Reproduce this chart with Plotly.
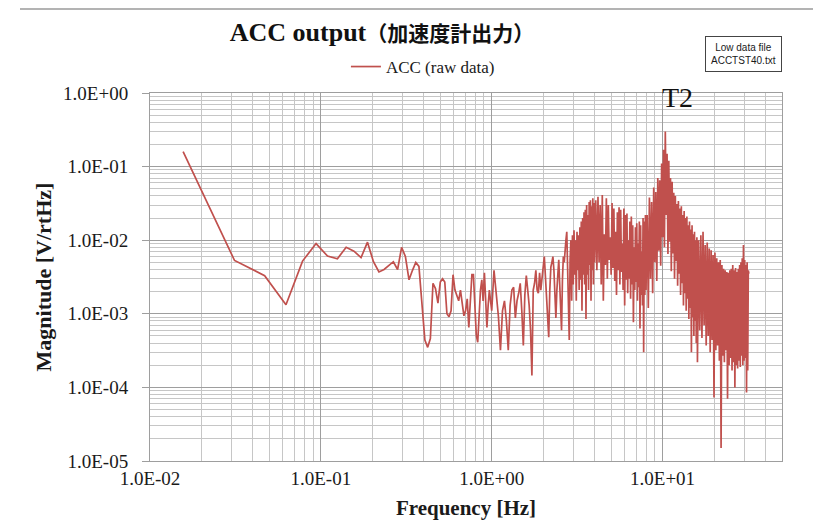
import numpy as np
import plotly.graph_objects as go

# ---------------- data ----------------
# 0.015625 .. 1.0 Hz, every FFT bin (df = 1/64 Hz)
mag_0_1 = [0.16, 0.0053, 0.0033, 0.00133, 0.0052, 0.0090, 0.0061, 0.0056, 0.0080, 0.0071,
           0.0058, 0.0094, 0.0051, 0.0037, 0.0040, 0.0046, 0.0051, 0.0040, 0.0080, 0.0060,
           0.0029, 0.0039, 0.0050, 0.0044, 0.0015, 0.00044, 0.00035, 0.00046, 0.0026, 0.0022,
           0.0014, 0.0027, 0.0030, 0.0027, 0.0010, 0.00091, 0.0011, 0.0034, 0.0021, 0.0018,
           0.0015, 0.0021, 0.0013, 0.00094, 0.0011, 0.0016, 0.00065, 0.0015, 0.0034, 0.0034,
           0.0013, 0.00051, 0.00041, 0.0011, 0.0021, 0.0029, 0.0015, 0.0036, 0.0015, 0.00065,
           0.0013, 0.0021, 0.0015, 0.0011]
# 1 .. 2 Hz (step 1/32 Hz)
mag_1_2 = [0.0039, 0.0021, 0.00094, 0.00032, 0.0011, 0.0015, 0.0008, 0.00032, 0.0013, 0.0021,
           0.0023, 0.00088, 0.0015, 0.0019, 0.0026, 0.0011, 0.00037, 0.0018, 0.0033, 0.0021,
           0.0013, 0.0006, 0.000145, 0.0021, 0.0026, 0.0039, 0.0021, 0.0019, 0.0036, 0.0021,
           0.0031, 0.0043]
# 2 .. 4 Hz (step 1/32 Hz)
mag_2_4 = [0.006, 0.0032, 0.0015, 0.0008, 0.00048, 0.0021, 0.0043, 0.005, 0.006, 0.0039,
           0.0015, 0.00088, 0.0021, 0.0039, 0.0054, 0.0025, 0.0011, 0.0006, 0.0029, 0.006,
           0.005, 0.0086, 0.01, 0.013, 0.0029, 0.0011, 0.00044, 0.0054, 0.01, 0.0015,
           0.0117, 0.0025, 0.0137, 0.0034, 0.01, 0.0015, 0.013, 0.0039, 0.0117, 0.0021,
           0.015, 0.0029, 0.018, 0.0011, 0.020, 0.0034, 0.024, 0.0025, 0.026, 0.00085,
           0.030, 0.0034, 0.022, 0.0021, 0.033, 0.0046, 0.035, 0.0015, 0.029, 0.0039,
           0.037, 0.0025, 0.032, 0.005]
# 4 .. 8 Hz (step 1/16 Hz)
mag_4_8 = [0.035, 0.0039, 0.039, 0.005, 0.030, 0.0025, 0.041, 0.0015, 0.012, 0.0046,
           0.037, 0.0030, 0.030, 0.0054, 0.011, 0.0034, 0.032, 0.0042, 0.027, 0.0028,
           0.013, 0.0018, 0.024, 0.0039, 0.028, 0.0025, 0.026, 0.0037, 0.009, 0.0021,
           0.027, 0.0013, 0.022, 0.0029, 0.023, 0.0019, 0.010, 0.0030, 0.018, 0.0016,
           0.021, 0.0025, 0.016, 0.00077, 0.008, 0.0021, 0.015, 0.0027, 0.017, 0.0015,
           0.009, 0.0023, 0.018, 0.00063, 0.016, 0.0018, 0.007, 0.0013, 0.020, 0.0003,
           0.018, 0.0018, 0.022, 0.0021]
# 8 .. 16 Hz (step 1/8 Hz)
mag_8_16 = [0.022, 0.0012, 0.038, 0.0030, 0.033, 0.0019, 0.052, 0.0050, 0.045, 0.0028,
            0.070, 0.0072, 0.065, 0.0045, 0.11, 0.011, 0.17, 0.008, 0.30, 0.022,
            0.15, 0.0065, 0.12, 0.0095, 0.07, 0.0038, 0.062, 0.0066, 0.044, 0.0030,
            0.040, 0.0052, 0.031, 0.0024, 0.034, 0.0035, 0.027, 0.0018, 0.029, 0.0026,
            0.022, 0.0013, 0.025, 0.0019, 0.020, 0.0011, 0.021, 0.0016, 0.016, 0.00085,
            0.018, 0.0012, 0.014, 0.0003, 0.016, 0.0009, 0.012, 0.0005, 0.013, 0.0008,
            0.010, 0.0004, 0.011, 0.00022]
# 16 .. 32 Hz (step 1/4 Hz)
mag_16_32 = [0.010, 0.0006, 0.0117, 0.00047, 0.013, 0.0007, 0.0086, 0.00037, 0.0093, 0.0005,
             0.0077, 0.0003, 0.0073, 0.00044, 0.0063, 0.000073, 0.0068, 0.00032, 0.0057, 0.00037,
             0.005, 0.00023, 0.0054, 0.000015, 0.0046, 0.00027, 0.0041, 0.00022, 0.0039, 0.00032,
             0.0037, 0.00007, 0.0036, 0.0002, 0.0039, 0.00025, 0.0041, 0.00017, 0.0046, 0.00022,
             0.0039, 0.0001, 0.0042, 0.0002, 0.0037, 0.00018, 0.0041, 0.00023, 0.0046, 0.00019,
             0.005, 0.00027, 0.0057, 0.0002, 0.0086, 0.00023, 0.0054, 0.00025, 0.0046, 0.000085,
             0.005, 0.00017, 0.0039, 0.0035]

# (band start [Hz], frequency step [Hz], magnitudes)
bands = [(0.0, 1 / 64, mag_0_1), (1.0, 1 / 32, mag_1_2), (2.0, 1 / 32, mag_2_4),
         (4.0, 1 / 16, mag_4_8), (8.0, 1 / 8, mag_8_16), (16.0, 1 / 4, mag_16_32)]

x_tick_vals = [0.01, 0.1, 1, 10]
x_tick_text = ["1.0E-02", "1.0E-01", "1.0E+00", "1.0E+01"]
y_tick_vals = [1e-5, 1e-4, 1e-3, 1e-2, 1e-1, 1]
y_tick_text = ["1.0E-05", "1.0E-04", "1.0E-03", "1.0E-02", "1.0E-01", "1.0E+00"]
x_max = 50

freq, mag = [], []
for start, step, vals in bands:
    freq.extend(start + step * (np.arange(len(vals)) + 1))
    mag.extend(vals)

x_minor = [m * d for d in [0.01, 0.1, 1, 10] for m in range(2, 10) if m * d <= x_max]
y_minor = [m * d for d in [1e-5, 1e-4, 1e-3, 1e-2, 1e-1] for m in range(2, 10)]

SERIF = "Liberation Serif, Times New Roman, serif"
RED = "#C0504D"
TXT = "#1A1A1A"

# page offset of the figure inside the browser window
OX, OY = 7, 8
W, H = 821, 532
L, T = 149 - OX, 93 - OY          # plot area starts at page (149, 93)
PW, PH = 632, 368                 # plot area size
R, B = W - L - PW, H - T - PH

fig = go.Figure()
fig.add_trace(go.Scatter(x=freq, y=mag, mode="lines", name="ACC (raw data)",
                         line=dict(color=RED, width=1.7)))

axis_common = dict(
    type="log", showgrid=True, gridcolor="#9E9E9E", gridwidth=1,
    showline=True, linecolor="#9E9E9E", linewidth=1, mirror=True,
    tickfont=dict(family=SERIF, size=19, color=TXT),
    zeroline=False,
)

fig.update_xaxes(**axis_common, range=[np.log10(0.01), np.log10(x_max)],
                 ticks="", tickmode="array", tickvals=x_tick_vals, ticktext=x_tick_text,
                 minor=dict(tickmode="array", tickvals=x_minor, showgrid=True,
                            gridcolor="#C6C6C6", gridwidth=1, ticks=""),
                 title=dict(text="<b>Frequency [Hz]</b>", standoff=12,
                            font=dict(family=SERIF, size=21, color=TXT)))
fig.update_yaxes(**axis_common, range=[-5, 0],
                 ticks="outside", ticklen=7, tickcolor="#9E9E9E", ticklabelstandoff=10,
                 tickmode="array", tickvals=y_tick_vals, ticktext=y_tick_text,
                 minor=dict(tickmode="array", tickvals=y_minor, showgrid=True,
                            gridcolor="#C6C6C6", gridwidth=1, ticks=""),
                 title=dict(text="<b>Magnitude [V/rtHz]</b>", standoff=5,
                            font=dict(family=SERIF, size=22, color=TXT)))

fig.update_layout(
    width=W, height=H,
    margin=dict(l=L, r=R, t=T, b=B, autoexpand=False),
    paper_bgcolor="white", plot_bgcolor="white",
    title=dict(text="<b>ACC output<span style='font-family:Noto Sans CJK JP;font-size:21px'>（加速度計出力）</span></b>",
               x=(381 - OX) / W, xanchor="center", y=1 - (32 - OY) / H, yanchor="middle",
               font=dict(family=SERIF, size=26, color="#111111")),
    showlegend=True,
    legend=dict(x=0.31, y=1 + (93 - 67) / PH, xanchor="left", yanchor="middle", orientation="h",
                font=dict(family=SERIF, size=17, color=TXT),
                bgcolor="rgba(0,0,0,0)", itemwidth=30),
    annotations=[
        dict(text="T2", xref="paper", yref="paper", x=(676 - 149) / PW, y=1 - (97 - 93) / PH,
             xanchor="center", yanchor="middle", showarrow=False,
             font=dict(family=SERIF, size=28, color="#111111")),
        dict(text="Low data file<br>ACCTST40.txt", xref="paper", yref="paper",
             x=(742.5 - 149) / PW, y=1 + (93 - 54.5) / PH, xanchor="center", yanchor="middle",
             showarrow=False, align="center",
             font=dict(family="Liberation Sans Narrow, Liberation Sans, sans-serif", size=10, color=TXT),
             bordercolor="#444444", borderwidth=1, borderpad=5, bgcolor="white"),
    ],
    shapes=[dict(type="line", xref="paper", yref="paper",
                 x0=(19 - 149) / PW, x1=(W - 149) / PW,
                 y0=1 + (T - 1) / PH, y1=1 + (T - 1) / PH,
                 line=dict(color="#9A9A9A", width=1.5))],
)

fig.write_html("out.html")
